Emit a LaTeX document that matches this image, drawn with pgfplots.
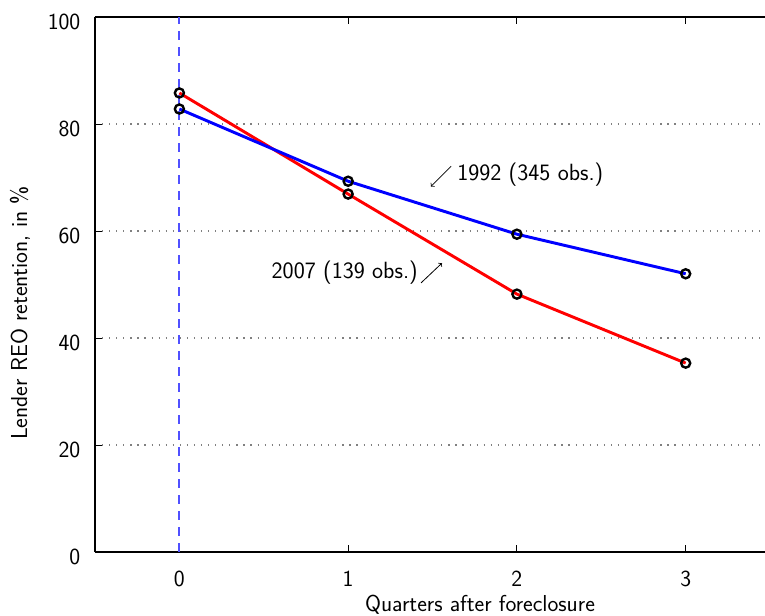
\documentclass[border=0pt]{standalone}
\usepackage{pgfplots}
\pgfplotsset{compat=1.18}
\definecolor{vline}{RGB}{80,80,255}
\begin{document}
\begin{tikzpicture}
\begin{axis}[
  scale only axis,
  width=502.5pt, height=401.25pt,
  xmin=-0.5, xmax=3.47, ymin=0, ymax=100,
  axis x line=box, axis y line=left,
  axis line style={-, line width=1pt},
  xtick={0,1,2,3}, ytick={0,20,40,60,80,100},
  tick align=inside, major tick length=5pt,
  tick style={black, line width=0.7pt},
  ymajorgrids, grid style={gray, line width=0.9pt, dash pattern=on 0.9pt off 4.4pt},
  ticklabel style={font=\fontsize{17.3}{20}\sffamily},
  xticklabel style={anchor=center, yshift=-20.25pt},
  yticklabel style={anchor=east, xshift=-7.5pt, yshift=-3.8pt},
  /pgf/number format/assume math mode=true,
  xlabel={Quarters after foreclosure},
  ylabel={Lender REO retention, in \%},
  label style={font=\fontsize{17.3}{20}\sffamily},
  xlabel style={at={(axis description cs:0.5746,-0.0995)}, anchor=center},
  ylabel style={at={(axis description cs:-0.1119,0.4467)}, anchor=center},
  clip=false,
]
\addplot[vline, line width=1.4pt, dash pattern=on 7pt off 5pt] coordinates {(0,0) (0,100)};
\addplot[red, line width=2.2pt, mark=o, mark size=3.4pt, mark options={black, solid, line width=1.8pt}] coordinates {(0,85.8) (1,66.9) (2,48.2) (3,35.3)};
\addplot[blue, line width=2.2pt, mark=o, mark size=3.4pt, mark options={black, solid, line width=1.8pt}] coordinates {(0,82.8) (1,69.3) (2,59.4) (3,52.0)};
\node[anchor=west, inner sep=0pt, font=\fontsize{17.6}{20}\sffamily] at (axis cs:1.645,70.5) {1992 (345 obs.)};
\draw[->, line width=0.6pt] (axis cs:1.61,72.1) -- (axis cs:1.49,68.3);
\node[anchor=east, inner sep=0pt, font=\fontsize{17.6}{20}\sffamily] at (axis cs:1.414,52.3) {2007 (139 obs.)};
\draw[->, line width=0.6pt] (axis cs:1.432,50.3) -- (axis cs:1.556,54.0);
\end{axis}
\pgfresetboundingbox
\path (current axis.south west) ++(-71.25pt,-48pt) coordinate (bbA);
\path (current axis.north east) ++(0pt,12.75pt) coordinate (bbB);
\useasboundingbox (bbA) rectangle (bbB);
\end{tikzpicture}
\end{document}
